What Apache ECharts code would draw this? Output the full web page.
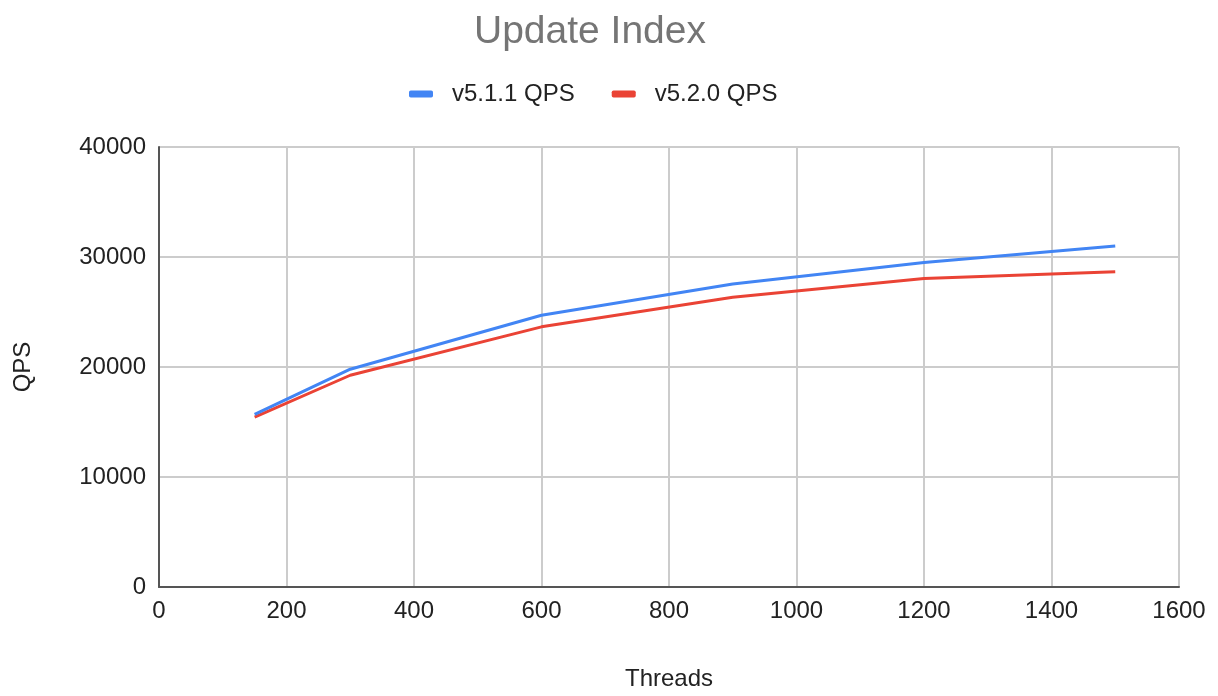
<!DOCTYPE html>
<html>
<head>
<meta charset="utf-8">
<script src="https://cdn.jsdelivr.net/npm/echarts@6/dist/echarts.min.js"></script>
<style>
  html, body { margin: 0; padding: 0; background: #fff; }
  #chart { width: 1218px; height: 696px; }
</style>
</head>
<body>
<div id="chart"></div>
<script>
// Thread counts tested
const threads = [150, 300, 600, 900, 1200, 1500];
// Queries per second for each release
const qpsV511 = [15700, 19800, 24700, 27550, 29500, 31000];
const qpsV520 = [15450, 19250, 23650, 26350, 28050, 28650];
const seriesNames = ['v5.1.1 QPS', 'v5.2.0 QPS'];

const FONT = '"Liberation Sans", Arial, sans-serif';

const chart = echarts.init(document.getElementById('chart'), null, { renderer: 'canvas' });

function pairs(xs, ys) {
  return xs.map((x, i) => [x, ys[i]]);
}

chart.setOption({
  animation: false,
  backgroundColor: '#ffffff',
  title: {
    text: 'Update Index',
    left: 469,
    top: 8,
    textStyle: { fontFamily: FONT, fontSize: 39, fontWeight: 'normal', color: '#757575' }
  },
  legend: {
    top: 77,
    left: 404,
    itemWidth: 24,
    itemHeight: 7,
    itemGap: 37,
    icon: 'roundRect',
    textStyle: { fontFamily: FONT, fontSize: 24, color: '#222222', padding: [0, 0, 0, 14] },
    data: seriesNames
  },
  grid: { left: 159, right: 39, top: 147, bottom: 108, containLabel: false },
  xAxis: {
    type: 'value',
    min: 0,
    max: 1600,
    interval: 200,
    name: 'Threads',
    nameLocation: 'middle',
    nameGap: 80,
    nameTextStyle: { fontFamily: FONT, fontSize: 24, color: '#222222' },
    axisLine: { show: true, lineStyle: { color: '#555555', width: 2 } },
    axisTick: { show: false },
    axisLabel: { fontFamily: FONT, fontSize: 24, color: '#222222', margin: 12, formatter: v => String(v) },
    splitLine: { show: true, lineStyle: { color: '#cccccc', width: 2 } }
  },
  yAxis: {
    type: 'value',
    min: 0,
    max: 40000,
    interval: 10000,
    name: 'QPS',
    nameLocation: 'middle',
    nameRotate: 90,
    nameGap: 124,
    nameTextStyle: { fontFamily: FONT, fontSize: 24, color: '#222222' },
    axisLine: { show: true, lineStyle: { color: '#555555', width: 2 } },
    axisTick: { show: false },
    axisLabel: { fontFamily: FONT, fontSize: 24, color: '#222222', margin: 13, formatter: v => String(v) },
    splitLine: { show: true, lineStyle: { color: '#cccccc', width: 2 } }
  },
  series: [
    {
      name: seriesNames[0],
      type: 'line',
      data: pairs(threads, qpsV511),
      showSymbol: false,
      symbol: 'none',
      color: '#4285f4',
      lineStyle: { width: 3, color: '#4285f4' },
      z: 3
    },
    {
      name: seriesNames[1],
      type: 'line',
      data: pairs(threads, qpsV520),
      showSymbol: false,
      symbol: 'none',
      color: '#ea4335',
      lineStyle: { width: 3, color: '#ea4335' },
      z: 2
    }
  ]
});
</script>
</body>
</html>
